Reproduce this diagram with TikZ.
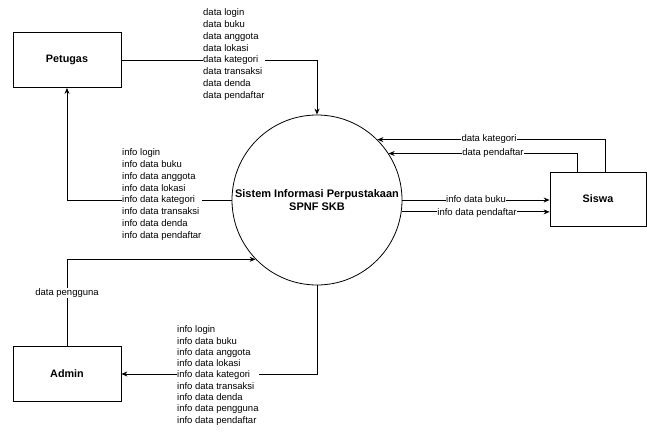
\documentclass[tikz,border=0pt]{standalone}
\usepackage{fontspec}
\setmainfont{Liberation Sans}
\usetikzlibrary{arrows.meta,positioning,calc}

\begin{document}
\begin{tikzpicture}[x=1pt,y=-1pt,
  entity/.style={draw,line width=0.8pt,minimum width=108pt,minimum height=55pt,
    font=\fontsize{10.8}{13}\selectfont\bfseries},
  process/.style={draw,circle,line width=0.8pt,minimum size=170pt,inner sep=0pt,
    align=center,font=\fontsize{11}{12.5}\selectfont\bfseries},
  flow/.style={line width=0.8pt,-{Stealth[length=6pt,width=5pt]}},
  lbl/.style={fill=white,inner xsep=0.5pt,inner ysep=1pt,align=left,
    font=\fontsize{9.5}{11.8}\selectfont}]
\useasboundingbox (0,0) rectangle (647,434);
% Process and external entities
\node[process] (sys) at (317,200) {Sistem Informasi Perpustakaan\\SPNF SKB};
\node[entity] (pet) at (67,60) {Petugas};
\node[entity] (adm) at (67,374) {Admin};
\node[entity,minimum width=96pt,minimum height=54pt] (sis) at (598,199) {Siswa};
% Points on the circle
\coordinate (k1) at (sys.45.9);
\coordinate (k2) at (sys.33.6);
\coordinate (k3) at (sys.-8.8);
\coordinate (k4) at (sys.224.9);
% Petugas flows
\draw[flow] (pet.east) -| (sys.north);
\draw[flow] (sys.west) -| (pet.south);
% Siswa flows
\draw[flow] ([xshift=7pt]sis.north) |- (k1);
\draw[flow] ([xshift=-21pt]sis.north) |- (k2);
\draw[flow] (sys.east) -- (sys.east -| sis.west);
\draw[flow] (k3) -- (k3 -| sis.west);
% Admin flows
\draw[flow] (adm.north) |- (k4);
\draw[flow] (sys.south) |- (adm.east);
% Labels
\node[lbl,anchor=west] (lpet) at (202.5,54.5) {data login\\data buku\\data anggota\\data lokasi\\data kategori\\data transaksi\\data denda\\data pendaftar};
\node[lbl,anchor=west] (lsys) at (121.5,194.5) {info login\\info data buku\\info data anggota\\info data lokasi\\info data kategori\\info data transaksi\\info data denda\\info data pendaftar};
\node[lbl,anchor=west,font=\fontsize{9.5}{11.3}\selectfont] (ladm) at (176.5,375.5) {info login\\info data buku\\info data anggota\\info data lokasi\\info data kategori\\info data transaksi\\info data denda\\info data pengguna\\info data pendaftar};
\node[lbl] (lpg) at (67,293) {data pengguna};
\node[lbl] (lkat) at (489,139) {data kategori};
\node[lbl] (lpdf) at (493,153) {data pendaftar};
\node[lbl] (lbuku) at (476,199) {info data buku};
\node[lbl] (lipdf) at (477,213) {info data pendaftar};
\end{tikzpicture}
\end{document}
